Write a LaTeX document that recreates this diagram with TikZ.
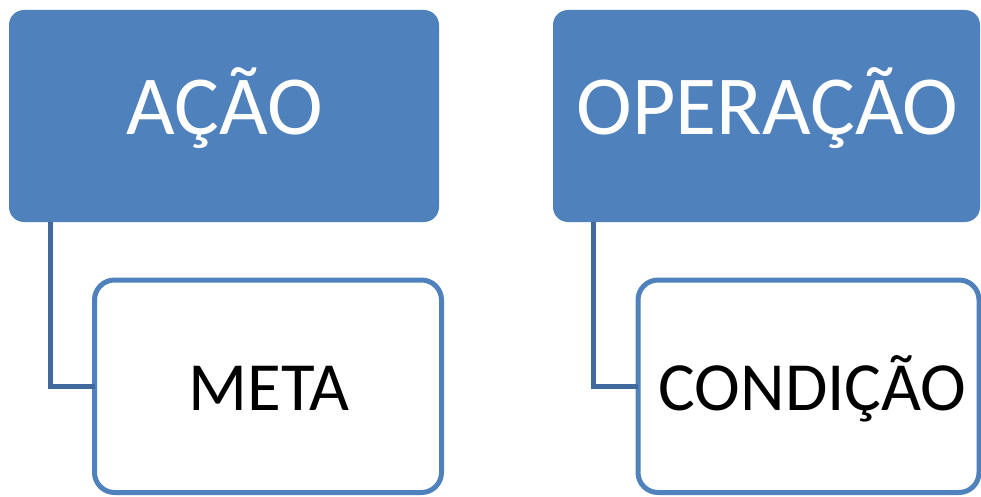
\documentclass[tikz,border=0pt]{standalone}
\usepackage{fontspec}
\setmainfont{Carlito}
\definecolor{accent}{HTML}{4F81BD}
\definecolor{linkblue}{HTML}{40699C}
\tikzset{
  headbox/.style={rectangle, rounded corners=15pt, fill=accent, draw=none,
    minimum height=212pt, inner sep=0pt, outer sep=0pt},
  childbox/.style={rectangle, rounded corners=20pt, fill=white, draw=accent,
    line width=5pt, minimum height=212.5pt, inner sep=0pt, outer sep=0pt},
  headtext/.style={anchor=base, inner sep=0pt, text=white,
    font=\fontsize{84}{92}\selectfont},
  childtext/.style={anchor=base, inner sep=0pt, text=black,
    font=\fontsize{69}{76}\selectfont},
  link/.style={draw=linkblue, line width=4.5pt}
}
\begin{document}
\begin{tikzpicture}[x=1pt, y=1pt]
  \useasboundingbox (0,0) rectangle (981,496);

  % parent boxes
  \node[headbox, minimum width=430pt] (acao) at (224,380) {};
  \node[headbox, minimum width=427pt] (operacao) at (766.5,380) {};

  % child boxes
  \node[childbox, minimum width=347pt] (meta) at (268,109.75) {};
  \node[childbox, minimum width=341pt] (condicao) at (808.5,109.75) {};

  % connectors from parent to child
  \draw[link] ([xshift=41.5pt]acao.south west) |- (meta.west);
  \draw[link] ([xshift=40.5pt]operacao.south west) |- (condicao.west);

  % labels
  \node[headtext] (tacao) at (224.5,361) {AÇÃO};
  \node[headtext] (toperacao) at (767.5,361) {OPERAÇÃO};
  \node[childtext] (tmeta) at (269,86) {META};
  \node[childtext] (tcondicao) at (812.5,86) {CONDIÇÃO};
\end{tikzpicture}
\end{document}
